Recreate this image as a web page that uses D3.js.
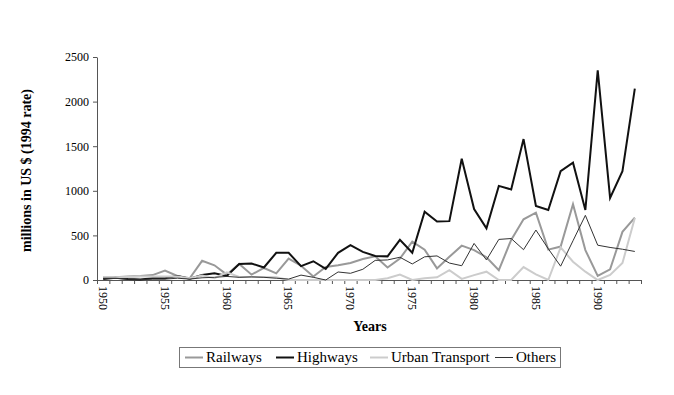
<!DOCTYPE html>
<html>
<head>
<meta charset="utf-8">
<script src="https://cdn.jsdelivr.net/npm/d3@7"></script>
<style>
  body { margin: 0; background: #fff; }
  svg text { font-family: "Liberation Serif", "Times New Roman", serif; fill: #000; }
</style>
</head>
<body>
<div id="chart"></div>
<script>
// years on the category axis
const years = d3.range(1950, 1994);

// series values, millions in US $ (1994 rate)
const railways = [30, 30, 40, 45, 55, 105, 45, 20, 215, 165,
                  60, 180, 60, 135, 75, 240, 160, 40, 145, 165,
                  190, 235, 265, 140, 240, 430, 340, 130, 260, 385,
                  335, 255, 110, 450, 680, 755, 340, 375, 850, 335,
                  45, 120, 540, 700];
const highways = [10, 25, 10, 5, 20, 20, 45, 15, 55, 75,
                  45, 180, 185, 140, 305, 305, 155, 210, 125, 305,
                  390, 315, 270, 265, 450, 305, 765, 655, 660, 1360,
                  795, 580, 1055, 1015, 1580, 830, 785, 1220, 1315, 785,
                  2350, 920, 1220, 2145];
const urban = [35, 30, 35, 40, 40, 40, 40, 20, 50, 20,
               85, 35, 35, 35, 30, 0, 0, 0, 0, 0,
               0, 0, 0, 20, 60, 0, 20, 30, 110, 12,
               55, 93, 0, 0, 145, 64, 0, 365, 205, 93,
               0, 56, 190, 695];
const others = [20, 20, 10, 5, 10, 10, 20, 10, 25, 30,
                40, 30, 35, 30, 20, 10, 55, 30, 0, 90,
                75, 120, 220, 225, 255, 180, 260, 270, 190, 160,
                410, 225, 455, 465, 340, 560, 350, 155, 440, 725,
                390, 365, 345, 320];

const yTicks = [0, 500, 1000, 1500, 2000, 2500];
const yearLabels = d3.range(1950, 1994, 5);

const width = 674, height = 395;
const margin = {top: 57, right: 33, bottom: 115, left: 97};
const serif = '"Liberation Serif", "Times New Roman", serif';

const series = [
  {name: "Railways", values: railways, color: "#999999", w: 2},
  {name: "Highways", values: highways, color: "#111111", w: 2},
  {name: "Urban Transport", values: urban, color: "#cccccc", w: 2},
  {name: "Others", values: others, color: "#333333", w: 1}
];

const svg = d3.select("#chart")
  .append("svg")
  .attr("width", width)
  .attr("height", height);

const x = d3.scaleBand()
  .domain(years)
  .range([margin.left, width - margin.right])
  .padding(0);

// boundaries between categories, for the tick marks
const xEdge = d3.scaleLinear()
  .domain([0, years.length])
  .range([margin.left, width - margin.right]);

const y = d3.scaleLinear()
  .domain([0, 2500])
  .range([height - margin.bottom, margin.top]);

// y axis
const yAxis = svg.append("g")
  .attr("transform", `translate(${margin.left},0)`)
  .call(d3.axisLeft(y).tickValues(yTicks).tickFormat(d3.format("d"))
        .tickSize(4).tickSizeOuter(0).tickPadding(4))
  .attr("font-family", serif)
  .attr("font-size", 12);
yAxis.select(".domain").attr("stroke", "#555");
yAxis.selectAll(".tick line").attr("stroke", "#555");

// x axis tick marks between categories
const xTickG = svg.append("g")
  .attr("transform", `translate(0,${height - margin.bottom})`)
  .call(d3.axisBottom(xEdge).tickValues(d3.range(0, years.length + 1))
        .tickSize(4).tickSizeOuter(0).tickFormat(""));
xTickG.select(".domain").attr("stroke", "#555");
xTickG.selectAll(".tick line").attr("stroke", "#555");

// x labels, rotated
const xLab = svg.append("g")
  .attr("transform", `translate(0,${height - margin.bottom})`)
  .call(d3.axisBottom(x).tickValues(yearLabels).tickSize(0))
  .attr("font-family", serif)
  .attr("font-size", 12);
xLab.select(".domain").remove();
xLab.selectAll("text")
  .attr("transform", "rotate(90)")
  .attr("text-anchor", "start")
  .attr("x", 6)
  .attr("y", 0)
  .attr("dy", "0.35em");

// lines
const line = d3.line()
  .x((d, i) => x(years[i]) + x.bandwidth() / 2)
  .y(d => y(d));

svg.selectAll(".series")
  .data(series)
  .enter()
  .append("path")
  .attr("class", "series")
  .attr("fill", "none")
  .attr("stroke", d => d.color)
  .attr("stroke-width", d => d.w)
  .attr("stroke-linejoin", "miter")
  .attr("d", d => line(d.values));

// axis titles
svg.append("text")
  .attr("transform", `translate(31,${(margin.top + height - margin.bottom) / 2 + 2}) rotate(-90)`)
  .attr("text-anchor", "middle")
  .attr("font-size", "14px")
  .attr("font-weight", "bold")
  .text("millions in US $ (1994 rate)");

svg.append("text")
  .attr("x", 370)
  .attr("y", 331)
  .attr("text-anchor", "middle")
  .attr("font-size", "14px")
  .attr("font-weight", "bold")
  .text("Years");

// legend
const legend = svg.append("g");
legend.append("rect")
  .attr("x", 179.5).attr("y", 347.5)
  .attr("width", 381).attr("height", 20)
  .attr("fill", "none").attr("stroke", "#777");

const legendX = [185, 276, 370, 495];
series.forEach((s, i) => {
  legend.append("line")
    .attr("x1", legendX[i]).attr("x2", legendX[i] + 18)
    .attr("y1", 357.5).attr("y2", 357.5)
    .attr("stroke", s.color)
    .attr("stroke-width", s.w);
  legend.append("text")
    .attr("x", legendX[i] + 21)
    .attr("y", 362)
    .attr("font-size", "15px")
    .text(s.name);
});
</script>
</body>
</html>
